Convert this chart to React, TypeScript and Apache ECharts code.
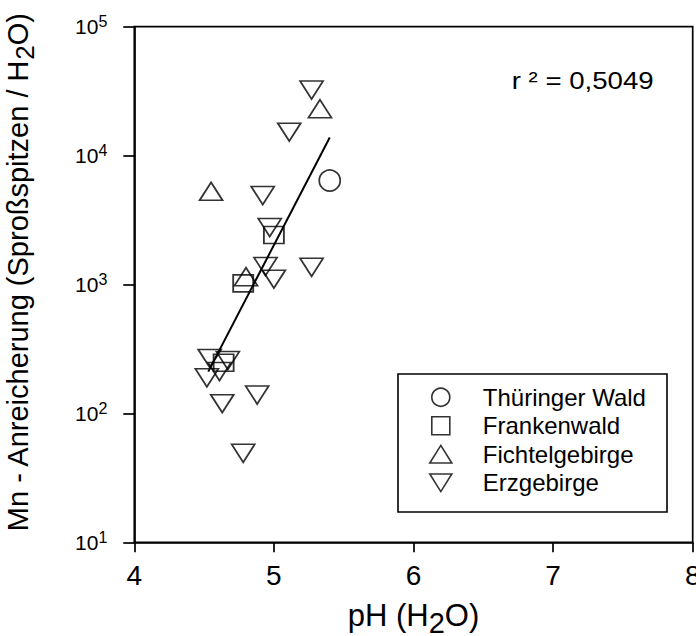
import React, { useEffect, useRef } from 'react';
import * as echarts from 'echarts';

const FONT = "'Liberation Sans', Arial, sans-serif";

const seriesNames = ['Thüringer Wald', 'Frankenwald', 'Fichtelgebirge', 'Erzgebirge'];

const thueringerPH = [5.40];
const thueringerMn = [6400];

const frankenPH = [5.0, 4.78, 4.64];
const frankenMn = [2420, 1020, 247];

const fichtelPH = [5.33, 4.55, 4.8];
const fichtelMn = [23100, 5280, 1150];

const erzPH = [5.27, 5.11, 4.92, 4.97, 4.94, 5.27, 5.0, 4.54, 4.67, 4.61, 4.52, 4.88, 4.63, 4.78];
const erzMn = [32300, 15200, 4900, 2770, 1380, 1360, 1100, 267, 257, 211, 189, 139, 119, 49];

const regressionPH = [4.53, 5.4];
const regressionMn = [211, 13800];

const xTickLabels = ['4', '5', '6', '7', '8'];
const yTickExponents = [1, 2, 3, 4, 5];

const rSquaredText = 'r ² = 0,5049';

const zip = (xs: number[], ys: number[]) => xs.map((x, i) => [x, ys[i]]);

const UP = 'path://M5,0L10,8L0,8Z';
const DOWN = 'path://M0,0L10,0L5,8Z';
const SQUARE = 'path://M0,0L10,0L10,10L0,10Z';

const markerStyle = { color: 'rgba(0,0,0,0)', borderColor: '#000', borderWidth: 1.7 };

export default function App() {
  const ref = useRef<HTMLDivElement>(null);
  useEffect(() => {
    document.body.style.margin = '0';
    const chart = echarts.init(ref.current!, null, { renderer: 'svg' });
    const option: any = {
      animation: false,
      backgroundColor: '#fff',
      textStyle: { fontFamily: FONT, color: '#000' },
      grid: {
        left: 134.3, top: 26.7, right: 3.3, bottom: 93.7,
        containLabel: false, outerBoundsMode: 'none',
        show: true, borderColor: '#000', borderWidth: 1.7, backgroundColor: 'transparent',
      },
      xAxis: {
        type: 'value', min: 4, max: 8, interval: 1,
        axisLine: { show: true, lineStyle: { color: '#000', width: 1.7 } },
        axisTick: { show: true, inside: false, length: 10, lineStyle: { color: '#000', width: 1.7 } },
        splitLine: { show: false },
        axisLabel: {
          fontSize: 28, color: '#000', fontFamily: FONT, margin: 19,
          formatter: (v: number) => xTickLabels[Math.round(v) - 4] ?? '',
        },
        name: 'pH (H{sub|2}O)',
        nameLocation: 'middle',
        nameGap: 48,
        nameTextStyle: {
          fontSize: 31, color: '#000', fontFamily: FONT, lineHeight: 43,
          rich: { sub: { fontSize: 29, verticalAlign: 'bottom', fontFamily: FONT, color: '#000' } },
        },
      },
      yAxis: {
        type: 'log', logBase: 10, min: 10, max: 100000,
        axisLine: { show: true, lineStyle: { color: '#000', width: 1.7 } },
        axisTick: { show: true, inside: false, length: 11, lineStyle: { color: '#000', width: 1.7 } },
        minorTick: { show: false },
        splitLine: { show: false },
        axisLabel: {
          fontSize: 21, color: '#000', fontFamily: FONT, margin: 27, lineHeight: 26,
          formatter: (v: number) => {
            const e = Math.round(Math.log10(v));
            return yTickExponents.includes(e) ? `{b|10}{sup|${e}}` : '';
          },
          rich: {
            b: { fontSize: 21, lineHeight: 26, fontFamily: FONT, color: '#000' },
            sup: { fontSize: 16, lineHeight: 16, verticalAlign: 'top', fontFamily: FONT, color: '#000' },
          },
        },
        name: 'Mn - Anreicherung (Sproßspitzen / H{sub|2}O)',
        nameLocation: 'middle',
        nameGap: 96,
        nameRotate: 90,
        nameTextStyle: {
          fontSize: 29, color: '#000', fontFamily: FONT, lineHeight: 40,
          padding: [0, 0, 0, 24],
          rich: { sub: { fontSize: 26, verticalAlign: 'bottom', fontFamily: FONT, color: '#000' } },
        },
      },
      legend: {
        data: seriesNames,
        orient: 'vertical',
        left: 429, top: 383, padding: 0, itemGap: 0,
        itemWidth: 22, itemHeight: 18,
        selectedMode: false,
        textStyle: { fontSize: 24, color: '#000', fontFamily: FONT, lineHeight: 28.5, padding: [0, 0, 0, 26] },
        itemStyle: { borderWidth: 1.6, borderColor: '#000' },
      },
      graphic: [
        {
          type: 'rect', silent: true,
          shape: { x: 398, y: 374, width: 269, height: 138 },
          style: { fill: 'none', stroke: '#000', lineWidth: 1.6 },
          z: 10,
        },
        {
          type: 'text', silent: true, x: 511.7, y: 81, scaleX: 1.15,
          style: { text: rSquaredText, font: `24px ${FONT}`, fill: '#000', verticalAlign: 'middle', align: 'left' },
          z: 10,
        },
      ],
      series: [
        {
          type: 'line', name: 'Regression', data: zip(regressionPH, regressionMn),
          symbol: 'none', silent: true, lineStyle: { color: '#000', width: 2 }, z: 2,
        },
        {
          type: 'scatter', name: seriesNames[0], data: zip(thueringerPH, thueringerMn),
          symbol: 'circle', symbolSize: 21, itemStyle: markerStyle, silent: true, z: 3,
        },
        {
          type: 'scatter', name: seriesNames[1], data: zip(frankenPH, frankenMn),
          symbol: SQUARE, symbolSize: [20, 17], itemStyle: markerStyle, silent: true, z: 3,
        },
        {
          type: 'scatter', name: seriesNames[2], data: zip(fichtelPH, fichtelMn),
          symbol: UP, symbolSize: [23, 18], itemStyle: markerStyle, silent: true, z: 3,
        },
        {
          type: 'scatter', name: seriesNames[3], data: zip(erzPH, erzMn),
          symbol: DOWN, symbolSize: [23, 18], itemStyle: markerStyle, silent: true, z: 3,
        },
      ],
    };
    chart.setOption(option);
    return () => chart.dispose();
  }, []);
  return <div ref={ref} style={{ width: 696, height: 636 }} />;
}
